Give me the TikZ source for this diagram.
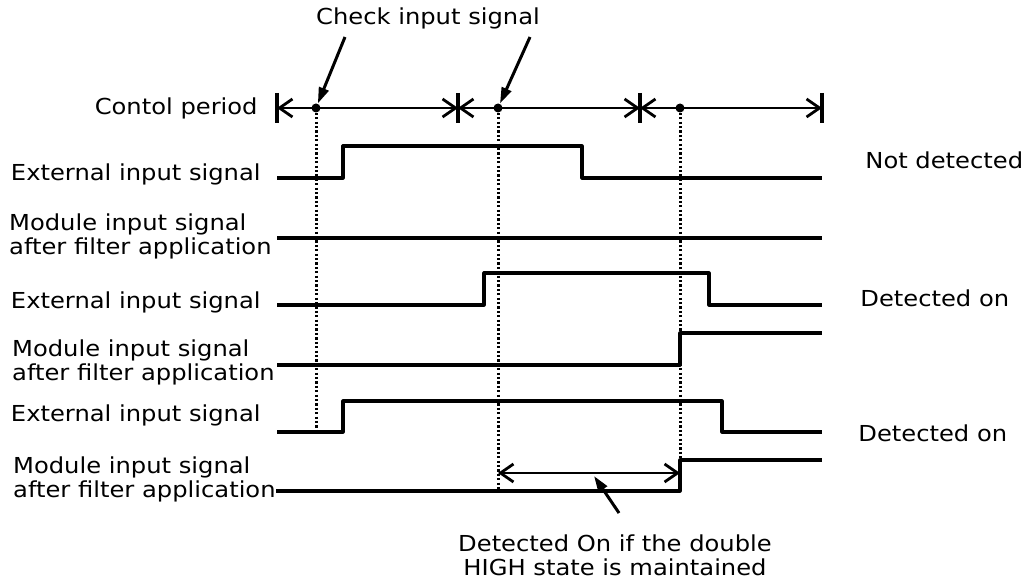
\documentclass[tikz,border=0pt]{standalone}
\usepackage{fontspec}
\setmainfont{DejaVu Sans}[FakeStretch=1.1]
\usetikzlibrary{arrows.meta}

\begin{document}
\begin{tikzpicture}[
  x=0.5pt, y=-0.5pt,
  lbl/.style={font=\fontsize{11}{12}\selectfont, inner sep=0pt},
  wave/.style={line width=1.6pt, line join=round},
  period/.style={line width=1.4pt,
    {Straight Barb[length=6.5pt,width=9pt]}-{Straight Barb[length=6.5pt,width=9pt]}},
  tick/.style={line width=1.6pt},
  guide/.style={line width=1.5pt, dash pattern=on 1.1pt off 1.1pt},
  pointer/.style={line width=1.5pt, -{Triangle[length=8pt,width=5pt]}},
  sample/.style={circle, fill, inner sep=0pt, minimum size=4.5pt}
]
  \useasboundingbox (0,0) rectangle (1031,582);

  % control period axis
  \node[lbl, anchor=east] (period) at (258,108) {Contol period};
  \foreach \i/\x in {0/277, 1/458, 2/640, 3/822} {
    \coordinate (t\i) at (\x,108);
    \draw[tick] (\x,93) -- (\x,123);
  }
  \draw[period] (t0) -- (t1);
  \draw[period] (t1) -- (t2);
  \draw[period] (t2) -- (t3);
  \node[sample] (c1) at (316,108) {};
  \node[sample] (c2) at (498,108) {};
  \node[sample] (c3) at (680,108) {};

  \node[lbl] (check) at (428,18) {Check input signal};
  \coordinate (p1) at (345,37);
  \coordinate (p2) at (530,37);
  \draw[pointer] (p1) -- (c1);
  \draw[pointer] (p2) -- (c2);

  % sampling instants
  \draw[guide] (c1) -- (316,432);
  \draw[guide] (c2) -- (498,491);
  \draw[guide] (c3) -- (680,460);

  % case 1
  \node[lbl, anchor=east] (ext1) at (261,174) {External input signal};
  \draw[wave] (277,178) -- (343,178) -- (343,146) -- (582,146) -- (582,178) -- (822,178);
  \node[lbl, anchor=east, align=left] (mod1) at (272,236) {Module input signal\\after filter application};
  \draw[wave] (277,238) -- (822,238);
  \node[lbl, anchor=west] (res1) at (865,160) {Not detected};

  % case 2
  \node[lbl, anchor=east] (ext2) at (261,302) {External input signal};
  \draw[wave] (277,305) -- (484,305) -- (484,273) -- (709,273) -- (709,305) -- (822,305);
  \node[lbl, anchor=east, align=left] (mod2) at (275,362) {Module input signal\\after filter application};
  \draw[wave] (277,365) -- (680,365) -- (680,333) -- (822,333);
  \node[lbl, anchor=west] (res2) at (860,298) {Detected on};

  % case 3
  \node[lbl, anchor=east] (ext3) at (261,415) {External input signal};
  \draw[wave] (277,432) -- (343,432) -- (343,401) -- (722,401) -- (722,432) -- (822,432);
  \node[lbl, anchor=east, align=left] (mod3) at (276,479) {Module input signal\\after filter application};
  \draw[wave] (mod3.east |- 0,491) -- (680,491) -- (680,460) -- (822,460);
  \node[lbl, anchor=west] (res3) at (858,433) {Detected on};

  % double HIGH interval
  \coordinate (h0) at (498,473);
  \coordinate (h1) at (680,473);
  \draw[period] (h0) -- (h1);
  \node[lbl, align=center] (note) at (615,555) {Detected On if the double\\HIGH state is maintained};
  \coordinate (p3) at (619,513);
  \draw[pointer] (p3) -- (594,476);
\end{tikzpicture}
\end{document}
